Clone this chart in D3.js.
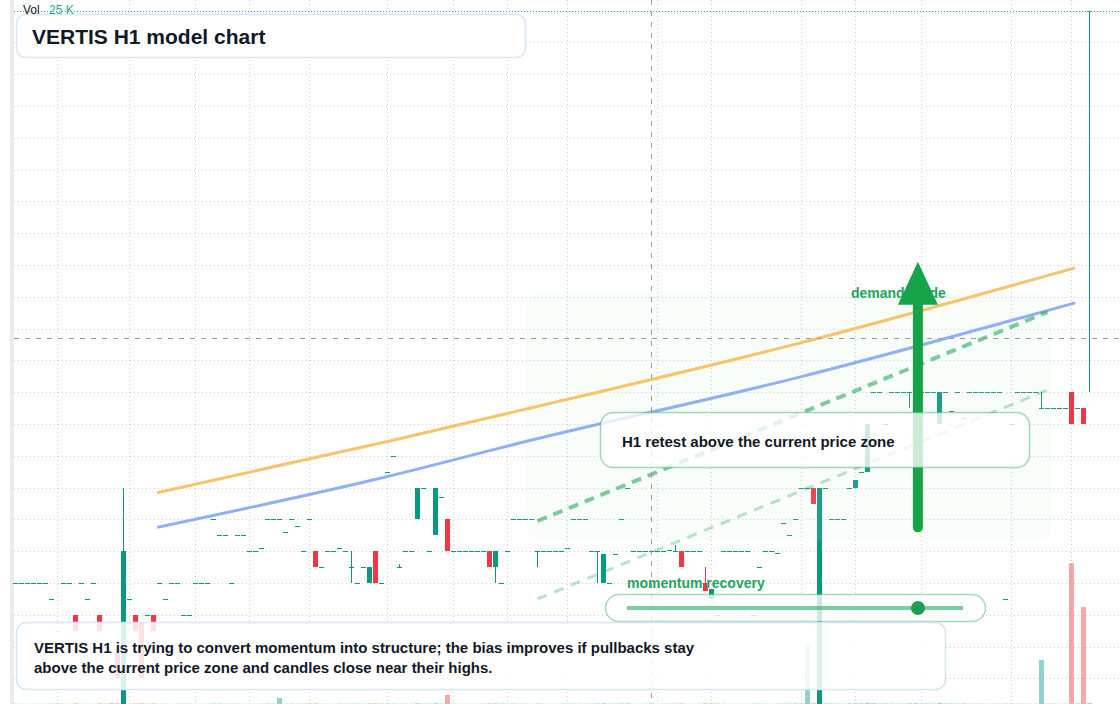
<!DOCTYPE html>
<html><head><meta charset="utf-8">
<script src="https://cdn.jsdelivr.net/npm/d3@7"></script>
<style>
html,body{margin:0;padding:0;background:#fff;overflow:hidden;}
svg{display:block;font-family:"Liberation Sans",Arial,sans-serif;}
</style></head><body>
<svg id="chart" width="1120" height="704"></svg>
<script>
// ---------------- DATA ----------------
const openP = [
100,100,100,100,100,100,99.5,98.5,100,100,
99,100,99.5,100,99,98,97,97.8,95.5,99.5,
99,98.75,99,99,100,99.5,100,100,99,99,
100,100,100,102,101.5,101.5,100,101.5,101.5,101,
101,101.1,102,102,102,101.6,102,101.8,101,102,
101,100.5,101,101,101.1,101,100.5,100,100.5,100,
101,100,103.5,104,100.5,101,101,102,103,101,
101.5,102.7,102,101,101,101,101,101,101,101,
100.5,100,101,102,102,102,102,101,101,101,
101,101,101.1,102,102,102,101,101,100,100,
100.9,102,103,101,101,101,101,101,101,101,
101,101,101,101,101,100,99.5,99,101,101,
101,101,101,99,100.5,101,101,100.95,101.9,101.5,
102,103,103,103,95.5,103,102,102,102,103,
103,103.5,103.5,106,106,105,106,106,106,106,
106,106,106,106,105,106,105.4,106,105.2,106,
106,106,106,106,106,99.5,105,106,106,106,
106,105.5,105.5,105.5,105.5,105.5,106,105.5,105.5,118];
const highP = [
100,100,100,100,100,100,99.5,98.5,100,100,
99,100,99.5,100,99,98,97,97.8,103,99.5,
99,98.75,99,99,100,99.5,100,100,99,99,
100,100,100,102,101.5,101.5,100,101.5,101.5,101,
101,101.1,102,102,102,101.6,102,101.8,101,102,
101,100.5,101,101,101.1,101,101,100,100.5,100.5,
101,100,103.5,104,100.6,101,101,103,103,101,
103,102.7,102,101,101,101,101,101,101,101,
101,100,101,102,102,102,102,101,101,101,
101,101,101.1,102,102,102,101,101,100.9,100,
100.9,102,103,101,101,101,101,101,101,101.05,
101.2,101,101,101,101,100.5,99.8,99,101,101,
101,101,101,99,100.5,101,101,100.95,101.9,101.5,
102,103,103,103,103,103,102,102,102,103,
103.25,103.5,105,106,106,105,106,106,106,106,
106,106,106,106,106,106,105.4,106,105.2,106,
106,106,106,106,106,99.5,105,106,106,106,
106,106,105.5,105.5,105.5,105.5,106,105.5,105.5,118];
const lowP = [
100,100,100,100,100,100,99.5,98.5,100,100,
98.5,100,99.5,100,98.5,98,97,97,95.5,99.5,
98.5,97,99,98.5,100,99.5,100,100,99,99,
100,100,100,102,101.5,101.5,100,101.5,101.5,101,
101,101.1,102,102,102,101.6,102,101.8,101,102,
100.5,100.5,101,101,101.1,101,100,100,100.5,100,
100,100,103.5,104,100.5,101,101,102,103,101,
101.5,102.7,101,101,101,101,101,101,101,100.5,
100,100,101,102,102,102,102,100.5,101,101,
101,101,101.1,102,102,102,101,100,100,100,
100.9,102,103,101,101,101,101,101,101,101,
101,100.5,101,101,101,99.75,99.5,99,101,101,
101,101,101,99,100.5,101,101,100.95,101.9,101.5,
102,103,103,102.5,95.5,103,102,102,102,103,
103,103.5,103.5,106,106,105,106,106,106,105.5,
106,106,106,106,105,106,105.4,106,105.2,106,
106,106,106,106,106,99.5,105,106,106,106,
106,105.5,105.5,105.5,105.5,105.5,105,105.5,105,106];
const closeP = [
100,100,100,100,100,100,99.5,98.5,100,100,
98.5,100,99.5,100,98.5,98,97,97,101,99.5,
98.5,97,99,98.5,100,99.5,100,100,99,99,
100,100,100,102,101.5,101.5,100,101.5,101.5,101,
101,101.1,102,102,102,101.6,102,101.8,101,102,
100.5,100.5,101,101,101.1,101,100.5,100,100.5,100.5,
100,100,103.5,104,100.5,101,101,103,103,101,
103,102.7,101,101,101,101,101,101,101,100.5,
101,100,101,102,102,102,102,101,101,101,
101,101,101.1,102,102,102,101,101,100.9,100,
100.9,102,103,101,101,101,101,101,101,101.05,
101,100.5,101,101,101,99.75,99.8,99,101,101,
101,101,101,99,100.5,101,101,100.95,101.9,101.5,
102,103,103,102.5,103,103,102,102,102,103,
103.25,103.5,105,106,106,105,106,106,106,106,
106,106,106,106,106,106,105.4,106,105.2,106,
106,106,106,106,106,99.5,105,106,106,106,
106,105.5,105.5,105.5,105.5,105.5,105,105.5,105,118];
const volumeK = [
14,9,11,8,12,10,16,22,9,11,
28,10,15,9,26,18,35,30,2400,20,
24,32,15,27,12,16,9,11,18,14,
10,8,12,21,17,13,19,15,12,16,
11,14,20,18,300,13,17,15,19,22,
26,14,12,10,16,13,21,18,15,24,
29,17,23,19,12,14,11,33,16,18,
38,21,450,13,10,12,9,11,14,27,
31,19,16,22,12,14,11,20,13,10,
12,15,17,21,14,12,16,23,30,18,
20,24,28,12,10,14,25,11,13,17,
19,26,12,10,14,33,29,21,15,11,
13,10,12,18,20,14,12,16,24,21,
27,30,2930,30,3100,26,22,18,15,28,
34,30,45,40,22,25,19,17,20,31,
36,28,24,21,48,26,23,19,22,17,
15,18,14,16,12,20,19,15,13,16,
18,2190,21,17,14,19,7000,26,4820,41];
const timeTickBars = [7,19,30,39,49,62,73,82,92,107,116,131,140,151,166,176];
const priceGridLevels = [97,98,99,100,101,102,103,104,105,106,107,108,109,110,111,112,113,114,115,116,117];
const trendBars = [23.6, 62, 84, 131, 176.6];
const upperTrend = [102.84, 104.45, 105.42, 107.56, 109.91];
const lowerTrend = [101.75, 103.35, 104.40, 106.49, 108.81];
const guideBars = [87, 172];
const guideUpper = [101.95, 108.52];
const guideLower = [99.5, 106.07];
const zoneBars = [85.2, 172.7];
const zonePrices = [101.35, 109.1];
const arrowBar = 150.4;
const arrowPrices = [101.75, 110.1];
const crosshairBar = 106;
const crosshairPrice = 107.7;
const texts = {
  title: "VERTIS H1 model chart",
  retest: "H1 retest above the current price zone",
  momentum: "momentum recovery",
  demand: "demand guide",
  note1: "VERTIS H1 is trying to convert momentum into structure; the bias improves if pullbacks stay",
  note2: "above the current price zone and candles close near their highs."
};

// ---------------- LAYOUT ----------------
const W = 1120, H = 704;
const UP = "#089981", DOWN = "#f23645";
const UPV = "rgba(38,166,154,0.5)", DOWNV = "rgba(239,83,80,0.5)";
const svg = d3.select("#chart");

const x = d3.scaleLinear().domain([0, 179]).range([15.5, 1089.5]);
const y = d3.scaleLinear().domain([96, 118]).range([710.2, 10.6]);
const yVol = d3.scaleLinear().domain([0, d3.max(volumeK)]).range([704, 563.2]);
const bars = d3.range(openP.length).map(i => ({i, o: openP[i], h: highP[i], l: lowP[i], c: closeP[i], v: volumeK[i]}));

svg.append("rect").attr("width", W).attr("height", H).attr("fill", "#fff");
svg.append("rect").attr("x", 10).attr("y", 0).attr("width", 4).attr("height", H).attr("fill", "#ebebeb");

// grid
const grid = svg.append("g").attr("stroke", "#cfcfcf").attr("stroke-width", 1).attr("stroke-dasharray", "1,3");
grid.selectAll("line.h").data(priceGridLevels).join("line")
  .attr("x1", 14).attr("x2", W)
  .attr("y1", d => Math.round(y(d)) + 0.5).attr("y2", d => Math.round(y(d)) + 0.5);
grid.selectAll("line.v").data(timeTickBars).join("line")
  .attr("x1", d => x(d)).attr("x2", d => x(d)).attr("y1", 0).attr("y2", H);

// volume
svg.append("g").selectAll("rect").data(bars).join("rect")
  .attr("x", d => x(d.i) - 2.5).attr("width", 5)
  .attr("y", d => yVol(d.v)).attr("height", d => 704 - yVol(d.v))
  .attr("fill", d => d.c >= d.o ? UPV : DOWNV);

// candles
const cg = svg.append("g").attr("shape-rendering", "crispEdges");
cg.selectAll("line").data(bars.filter(d => d.h > Math.max(d.o, d.c) || d.l < Math.min(d.o, d.c))).join("line")
  .attr("x1", d => x(d.i)).attr("x2", d => x(d.i))
  .attr("y1", d => Math.round(y(d.h))).attr("y2", d => Math.round(y(d.l)))
  .attr("stroke", d => d.c >= d.o ? UP : DOWN).attr("stroke-width", 1);
cg.selectAll("rect").data(bars).join("rect")
  .attr("x", d => x(d.i) - 2.5).attr("width", 5)
  .attr("y", d => Math.round(y(Math.max(d.o, d.c))))
  .attr("height", d => Math.max(1, Math.round(y(Math.min(d.o, d.c))) - Math.round(y(Math.max(d.o, d.c)))))
  .attr("fill", d => d.c >= d.o ? UP : DOWN);

// last price line
const last = bars[bars.length - 1];
svg.append("line").attr("x1", 14).attr("x2", W)
  .attr("y1", Math.round(y(last.c)) + 0.5).attr("y2", Math.round(y(last.c)) + 0.5)
  .attr("stroke", "#26a69a").attr("stroke-width", 1).attr("stroke-dasharray", "1,2");

// demand zone
svg.append("rect")
  .attr("x", x(zoneBars[0])).attr("width", x(zoneBars[1]) - x(zoneBars[0]))
  .attr("y", y(zonePrices[1])).attr("height", y(zonePrices[0]) - y(zonePrices[1]))
  .attr("rx", 14).attr("fill", "#c3ebd0").attr("fill-opacity", 0.1);

// trend lines
const trendLine = d3.line().x(d => x(d[0])).y(d => y(d[1])).curve(d3.curveMonotoneX);
svg.append("path").attr("d", trendLine(trendBars.map((b, i) => [b, upperTrend[i]])))
  .attr("fill", "none").attr("stroke", "#f6c46c").attr("stroke-width", 3);
svg.append("path").attr("d", trendLine(trendBars.map((b, i) => [b, lowerTrend[i]])))
  .attr("fill", "none").attr("stroke", "#8fb0f4").attr("stroke-width", 3);

// guide dashed lines
svg.append("path").attr("d", d3.line()(guideBars.map((b, i) => [x(b), y(guideUpper[i])])))
  .attr("fill", "none").attr("stroke", "rgba(22,163,74,0.55)").attr("stroke-width", 4).attr("stroke-dasharray", "10,7");
svg.append("path").attr("d", d3.line()(guideBars.map((b, i) => [x(b), y(guideLower[i])])))
  .attr("fill", "none").attr("stroke", "rgba(22,163,74,0.3)").attr("stroke-width", 3).attr("stroke-dasharray", "10,8");

// crosshair
const ch = svg.append("g").attr("stroke", "#9b9b9b").attr("stroke-width", 1).attr("stroke-dasharray", "5,6");
ch.append("line").attr("x1", x(crosshairBar)).attr("x2", x(crosshairBar)).attr("y1", 0).attr("y2", H);
ch.append("line").attr("x1", 14).attr("x2", W).attr("y1", Math.round(y(crosshairPrice)) + 0.5).attr("y2", Math.round(y(crosshairPrice)) + 0.5);

// demand guide label + arrow
svg.append("text").attr("x", 851).attr("y", 298).attr("font-size", 14).attr("font-weight", 700)
  .attr("fill", "#22a55b").text(texts.demand);
const ax = x(arrowBar), aTop = y(arrowPrices[1]), aBase = y(arrowPrices[0]);
svg.append("line").attr("x1", ax).attr("x2", ax).attr("y1", aBase).attr("y2", aTop + 40)
  .attr("stroke", "#16a34a").attr("stroke-width", 10).attr("stroke-linecap", "round");
svg.append("path").attr("d", `M${ax},${aTop} L${ax + 20},${aTop + 43} L${ax - 20},${aTop + 43} Z`).attr("fill", "#16a34a");

// H1 retest box
svg.append("rect").attr("x", 600.5).attr("y", 412.5).attr("width", 429).attr("height", 55).attr("rx", 13)
  .attr("fill", "#fff").attr("fill-opacity", 0.78).attr("stroke", "rgba(22,163,74,0.4)").attr("stroke-width", 1.5);
svg.append("text").attr("x", 622).attr("y", 447).attr("font-size", 15).attr("font-weight", 700)
  .attr("fill", "#111827").text(texts.retest);

// momentum slider
svg.append("text").attr("x", 627).attr("y", 588).attr("font-size", 14).attr("font-weight", 700)
  .attr("fill", "#22a55b").text(texts.momentum);
svg.append("rect").attr("x", 605.5).attr("y", 594.5).attr("width", 380).attr("height", 27).attr("rx", 13.5)
  .attr("fill", "#fff").attr("fill-opacity", 0.8).attr("stroke", "rgba(22,163,74,0.4)").attr("stroke-width", 1.5);
svg.append("line").attr("x1", 627).attr("x2", 963).attr("y1", 608).attr("y2", 608)
  .attr("stroke", "rgba(22,163,74,0.55)").attr("stroke-width", 4);
svg.append("circle").attr("cx", 918).attr("cy", 608).attr("r", 7).attr("fill", "#1f9f55");

// note box
svg.append("rect").attr("x", 16.5).attr("y", 622.5).attr("width", 929).attr("height", 67).attr("rx", 10)
  .attr("fill", "#fff").attr("fill-opacity", 0.86).attr("stroke", "#d6e4f8").attr("stroke-width", 1.5);
const nt = svg.append("text").attr("font-size", 15).attr("font-weight", 700).attr("fill", "#111827");
nt.append("tspan").attr("x", 34).attr("y", 653).text(texts.note1);
nt.append("tspan").attr("x", 34).attr("y", 673).text(texts.note2);

// title box
svg.append("rect").attr("x", 16.5).attr("y", 14.5).attr("width", 509).attr("height", 43).attr("rx", 9)
  .attr("fill", "#fff").attr("fill-opacity", 0.92).attr("stroke", "#d9e6fa").attr("stroke-width", 1.5);
svg.append("text").attr("x", 32).attr("y", 44).attr("font-size", 21).attr("font-weight", 700)
  .attr("fill", "#111827").text(texts.title);

// volume legend
const lg = svg.append("text").attr("x", 23).attr("y", 14).attr("font-size", 12);
lg.append("tspan").attr("fill", "#131722").text("Vol");
lg.append("tspan").attr("x", 49).attr("fill", "#26a69a").text(d3.format(".0f")(volumeK[crosshairBar]) + " K");
</script>
</body></html>
